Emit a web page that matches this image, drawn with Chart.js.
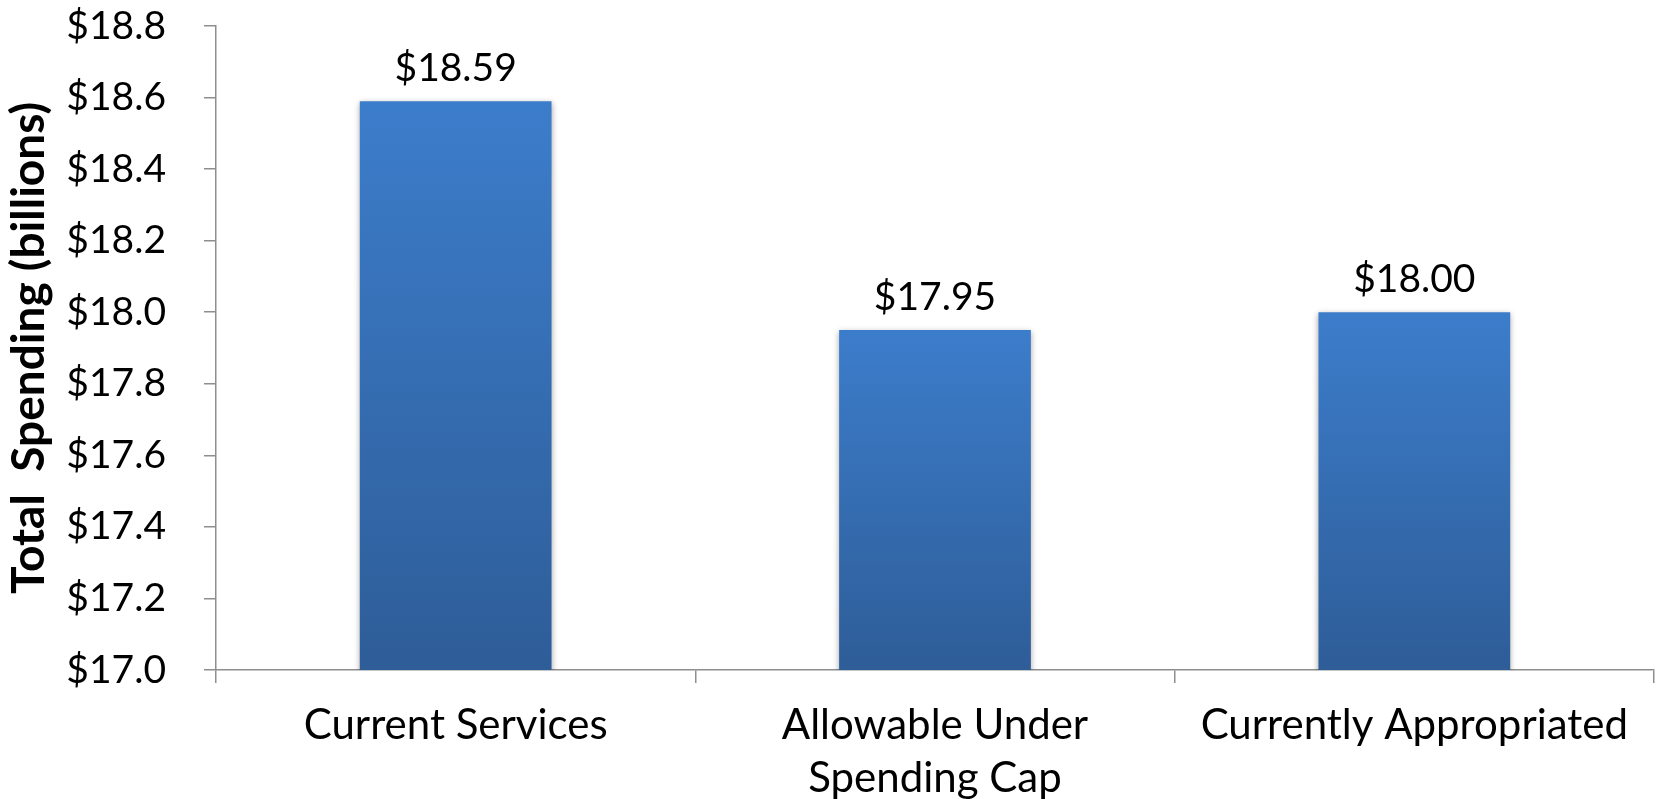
<!DOCTYPE html>
<html>
<head>
<meta charset="utf-8">
<script src="https://cdn.jsdelivr.net/npm/chart.js@4.4.1/dist/chart.umd.min.js"></script>
<style>
  body { margin: 0; background: #fff; }
  .wrap { width: 1659px; height: 799px; position: relative; }
</style>
</head>
<body>
<div class="wrap"><canvas class="graph"></canvas></div>
<script>
let categories = [
  "Current Services",
  ["Allowable Under", "Spending Cap"],
  "Currently Appropriated",
];
let spending = [18.59, 17.95, 18.0];
let yMin = 17.0;
let yMax = 18.8;
let yStep = 0.2;

const axisColor = "#8e8e8e";
const fontFamily = "Lato, 'Noto Sans', sans-serif";

// gradient for each bar, light on top, darker at the base
function barGradient(context) {
  const chart = context.chart;
  if (!chart.chartArea || context.type !== "data") return "#3a75c0";
  const y = chart.scales.y;
  const top = y.getPixelForValue(context.raw);
  const bottom = y.getPixelForValue(yMin);
  const g = chart.ctx.createLinearGradient(0, top, 0, bottom);
  g.addColorStop(0, "#3c7dcb");
  g.addColorStop(1, "#2e5d98");
  return g;
}

const barShadow = {
  id: "barShadow",
  beforeDatasetDraw(chart) {
    const ctx = chart.ctx;
    ctx.save();
    ctx.shadowColor = "rgba(0,0,0,0.35)";
    ctx.shadowBlur = 6;
    ctx.shadowOffsetX = 0;
    ctx.shadowOffsetY = 2;
  },
  afterDatasetDraw(chart) {
    chart.ctx.restore();
  },
};

const valueLabels = {
  id: "valueLabels",
  afterDatasetsDraw(chart) {
    const ctx = chart.ctx;
    const meta = chart.getDatasetMeta(0);
    ctx.save();
    ctx.font = "39px " + fontFamily;
    ctx.fillStyle = "#000";
    ctx.textAlign = "center";
    ctx.textBaseline = "alphabetic";
    meta.data.forEach((bar, i) => {
      ctx.fillText("$" + spending[i].toFixed(2), bar.x, bar.y - 20);
    });
    ctx.restore();
  },
};

const graph = new Chart(document.querySelector(".graph"), {
  type: "bar",
  data: {
    labels: categories,
    datasets: [
      {
        label: "Total Spending",
        data: spending,
        backgroundColor: barGradient,
        borderWidth: 0,
        barPercentage: 0.4,
        categoryPercentage: 1.0,
      },
    ],
  },
  plugins: [barShadow, valueLabels],
  options: {
    responsive: true,
    maintainAspectRatio: false,
    animation: false,
    layout: {
      padding: { top: 26, right: 5, bottom: 0, left: 0 },
    },
    plugins: {
      legend: { display: false },
      tooltip: { enabled: false },
    },
    scales: {
      x: {
        afterFit(scale) {
          scale.height = 129;
          scale.paddingLeft = 0;
          scale.paddingRight = 0;
        },
        grid: {
          offset: true,
          drawOnChartArea: false,
          tickLength: 13,
          color: axisColor,
          lineWidth: 1.5,
        },
        border: { color: axisColor, width: 1.5 },
        ticks: {
          color: "#000",
          padding: 16,
          maxRotation: 0,
          autoSkip: false,
          font: { family: fontFamily, size: 42, lineHeight: 1.26 },
        },
      },
      y: {
        min: yMin,
        max: yMax,
        afterFit(scale) {
          scale.width = 216;
          scale.paddingTop = 0;
          scale.paddingBottom = 0;
        },
        title: {
          display: true,
          text: "Total  Spending (billions)",
          color: "#000",
          padding: { top: 2, bottom: 0 },
          font: { family: fontFamily, size: 46, weight: "bold" },
        },
        grid: {
          drawOnChartArea: false,
          tickLength: 12,
          color: axisColor,
          lineWidth: 1.5,
        },
        border: { color: axisColor, width: 1.5 },
        ticks: {
          stepSize: yStep,
          color: "#000",
          padding: 38,
          font: { family: fontFamily, size: 39 },
          callback: (v) => "$" + Number(v).toFixed(1),
        },
      },
    },
  },
});
</script>
</body>
</html>
